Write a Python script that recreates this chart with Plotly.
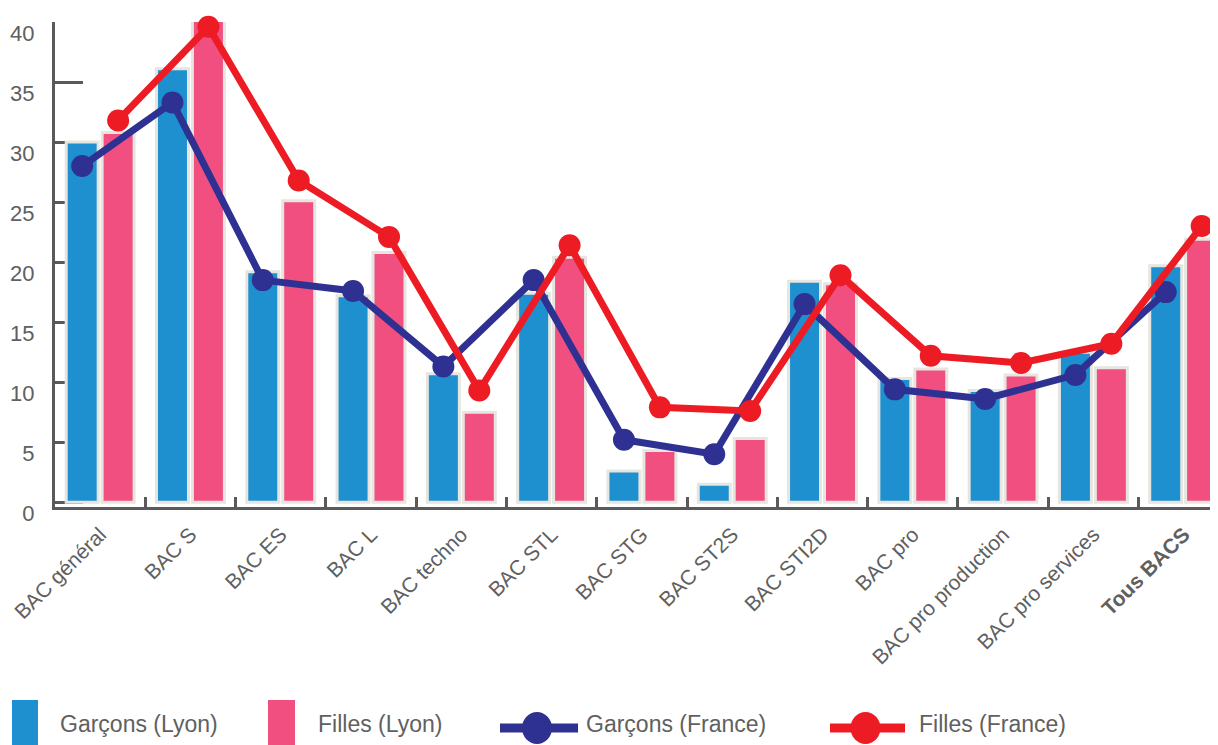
import plotly.graph_objects as go

categories = ["BAC général", "BAC S", "BAC ES", "BAC L", "BAC techno", "BAC STL",
              "BAC STG", "BAC ST2S", "BAC STI2D", "BAC pro", "BAC pro production",
              "BAC pro services", "Tous BACS"]
garcons_lyon = [30.0, 36.1, 19.2, 17.2, 10.7, 17.4, 2.6, 1.5, 18.4, 10.3, 9.3, 12.5, 19.7]
filles_lyon = [30.8, 40.2, 25.1, 20.8, 7.5, 20.4, 4.3, 5.3, 18.2, 11.1, 10.6, 11.2, 21.9]
garcons_france = [28.0, 33.3, 18.5, 17.6, 11.3, 18.5, 5.2, 4.0, 16.5, 9.4, 8.6, 10.6, 17.5]
filles_france = [31.8, 39.6, 26.8, 22.1, 9.3, 21.4, 7.9, 7.6, 18.9, 12.2, 11.6, 13.2, 23.0]
y_ticks = [0, 5, 10, 15, 20, 25, 30, 35, 40]

BLUE = "#1e90cf"
PINK = "#f04f80"
NAVY = "#2e3192"
RED = "#ed1c24"
BORDER = "#e6e5df"
GREY = "#5a5a5a"
TXT = "#606060"
FONT = "Liberation Sans, Arial, sans-serif"

labels = [f"<b>{c}</b>" if c == "Tous BACS" else c for c in categories]
idx = list(range(len(categories)))

OFF = 8  # page body margin
W, H = 1218 - OFF, 745 - OFF
ML, MR, MT, MB = 55 - OFF, 0, 22 - OFF, 238
PW, PH = W - ML - MR, H - MT - MB
XR = [-0.5, 12.38]

bargap = 0.204
slot = (1 - bargap) / 2
off = slot / 2

fig = go.Figure()
fig.add_trace(go.Bar(x=labels, y=garcons_lyon, name="Garçons (Lyon)",
                     marker=dict(color=BLUE, line=dict(color=BORDER, width=3)),
                     cliponaxis=False, showlegend=False))
fig.add_trace(go.Bar(x=labels, y=filles_lyon, name="Filles (Lyon)",
                     marker=dict(color=PINK, line=dict(color=BORDER, width=3)),
                     cliponaxis=False, showlegend=False))
fig.add_trace(go.Scatter(x=[i - off for i in idx], y=garcons_france, name="Garçons (France)",
                         xaxis="x2", mode="lines+markers",
                         line=dict(color=NAVY, width=7), marker=dict(color=NAVY, size=22),
                         cliponaxis=False, showlegend=False))
fig.add_trace(go.Scatter(x=[i + off for i in idx], y=filles_france, name="Filles (France)",
                         xaxis="x2", mode="lines+markers",
                         line=dict(color=RED, width=7), marker=dict(color=RED, size=22),
                         cliponaxis=False, showlegend=False))


def px_x(x):
    return (x - OFF - ML) / PW


def px_y(y):
    return 1 - (y - OFF - MT) / PH


shapes = []
annotations = []
legend_items = [
    ("rect", BLUE, 12, 38, 58, "Garçons (Lyon)"),
    ("rect", PINK, 268, 295, 316, "Filles (Lyon)"),
    ("line", NAVY, 500, 578, 584, "Garçons (France)"),
    ("line", RED, 830, 905, 917, "Filles (France)"),
]
yc = 728
for kind, col, x0, x1, tx, txt in legend_items:
    if kind == "rect":
        shapes.append(dict(type="rect", xref="paper", yref="paper",
                           x0=px_x(x0), x1=px_x(x1), y0=px_y(750), y1=px_y(700),
                           fillcolor=col, line=dict(width=0)))
    else:
        shapes.append(dict(type="line", xref="paper", yref="paper",
                           x0=px_x(x0), x1=px_x(x1), y0=px_y(yc), y1=px_y(yc),
                           line=dict(color=col, width=9)))
        cx = (x0 + x1) / 2 - 2
        shapes.append(dict(type="circle", xref="paper", yref="paper",
                           xsizemode="pixel", ysizemode="pixel",
                           xanchor=px_x(cx), yanchor=px_y(yc),
                           x0=-15, x1=15, y0=-16, y1=16,
                           fillcolor=col, line=dict(width=0)))
    annotations.append(dict(text=txt, xref="paper", yref="paper",
                            x=px_x(tx), y=px_y(724), xanchor="left", yanchor="middle",
                            showarrow=False, font=dict(size=23, color=TXT, family=FONT)))

fig.update_layout(
    width=W, height=H,
    margin=dict(l=ML, r=MR, t=MT, b=MB, pad=0, autoexpand=False),
    paper_bgcolor="white", plot_bgcolor="white",
    barmode="group", bargap=bargap, bargroupgap=0.11,
    font=dict(family=FONT, color=TXT),
    showlegend=False,
    shapes=shapes, annotations=annotations,
    xaxis=dict(type="category", range=XR, showline=True, linecolor=GREY, linewidth=3,
               ticks="inside", tickson="boundaries", ticklen=10, tickwidth=3, tickcolor=GREY,
               tickangle=-45, tickfont=dict(size=21, color=TXT, family=FONT),
               ticklabelstandoff=4,
               showgrid=False, zeroline=False, layer="below traces", automargin=False),
    xaxis2=dict(overlaying="x", range=XR, visible=False, showgrid=False, zeroline=False),
    yaxis=dict(range=[-0.4, 40], tickvals=y_ticks, showline=True, linecolor=GREY, linewidth=3,
               ticks="inside", ticklen=28, tickwidth=3, tickcolor=GREY,
               tickfont=dict(size=22, color=TXT, family=FONT),
               ticklabelstandoff=13, ticklabelshift=11,
               showgrid=False, zeroline=False, layer="below traces", automargin=False),
)

fig.write_html("out.html")
